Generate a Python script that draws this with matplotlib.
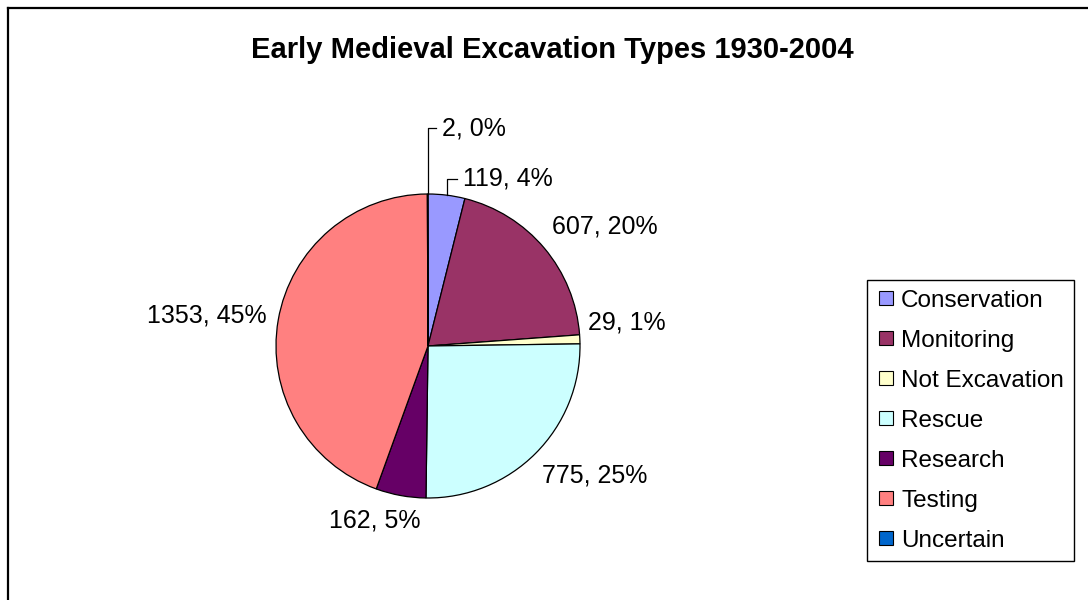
import numpy as np
import matplotlib
matplotlib.use("Agg")
import matplotlib.pyplot as plt
from matplotlib.lines import Line2D

categories = ["Conservation", "Monitoring", "Not Excavation", "Rescue",
              "Research", "Testing", "Uncertain"]
values = [119, 607, 29, 775, 162, 1353, 2]
percent_labels = ["4%", "20%", "1%", "25%", "5%", "45%", "0%"]
colors = ["#9999FF", "#993366", "#FFFFCC", "#CCFFFF", "#660066", "#FF8080", "#0066CC"]
title = "Early Medieval Excavation Types 1930-2004"

# layout: label offsets (pixels) from the wedge's outer mid point, alignment, leader
label_layout = [
    (16.5, 16.5, "left", True),
    (60.7, 22, "center", False),
    (47, 16.6, "center", False),
    (59.5, -22.5, "center", False),
    (-25.8, -25.4, "center", False),
    (-71, 5, "center", False),
    (14, 66, "left", True),
]

plt.rcParams['font.family'] = ['Liberation Sans', 'DejaVu Sans']
W, H = 1088, 600
fig = plt.figure(figsize=(W / 100, H / 100), dpi=100)
fig.patch.set_facecolor("white")

cx, cy, R = 428, 346, 152
ax = fig.add_axes([(cx - R) / W, (H - cy - R) / H, 2 * R / W, 2 * R / H])
wedges, _ = ax.pie(values, colors=colors, startangle=90, counterclock=False,
                   radius=1, wedgeprops=dict(edgecolor="black", linewidth=0.9))
ax.set_xlim(-1, 1)
ax.set_ylim(-1, 1)
ax.set_aspect("equal")
ax.axis("off")

total = float(sum(values))
cum = 0.0
for v, pct, (dx, dy, ha, leader) in zip(values, percent_labels, label_layout):
    mid = (cum + v / 2) / total * 2 * np.pi
    cum += v
    ex, ey = np.sin(mid), np.cos(mid)
    tx, ty = ex + dx / R, ey + dy / R
    ax.text(tx, ty, f"{v}, {pct}", ha=ha, va="center", fontsize=18,
            clip_on=False)
    if leader:
        ax.plot([ex, ex, tx - 6 / R], [ey, ty, ty], color="black", lw=0.9,
                clip_on=False)

fig.text(552 / W, 1 - 50 / H, title, ha="center", va="center",
         fontsize=21, fontweight="bold")

handles = [Line2D([], [], marker="s", linestyle="none", markersize=10,
                  markerfacecolor=c, markeredgecolor="black", markeredgewidth=0.8)
           for c in colors]
leg = fig.legend(handles, categories, loc="upper left",
                 bbox_to_anchor=(867 / W, 1 - 280 / H), borderaxespad=0,
                 fontsize=17.5, frameon=True, fancybox=False, framealpha=1,
                 edgecolor="black", labelspacing=0.74, handlelength=0.8,
                 handletextpad=0.2, borderpad=0.4)
leg.get_frame().set_linewidth(1.0)

# chart area border (left and top)
fig.add_artist(Line2D([7.5 / W, 7.5 / W], [0, 1 - 8 / H], color="black", lw=1.6,
                      transform=fig.transFigure))
fig.add_artist(Line2D([7.5 / W, 1], [1 - 8 / H, 1 - 8 / H], color="black", lw=1.6,
                      transform=fig.transFigure))

fig.savefig("out.png", dpi=100)
